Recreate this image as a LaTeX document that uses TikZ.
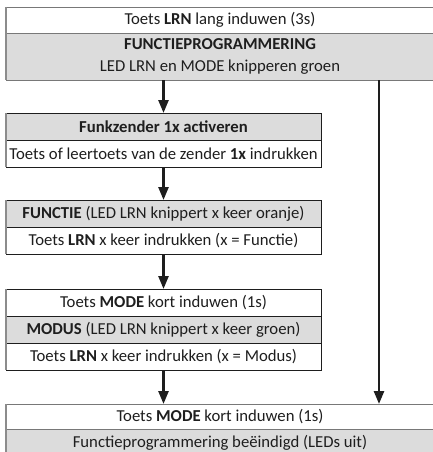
\documentclass[tikz,border=0pt]{standalone}
\usepackage{fontspec}
\setmainfont{Carlito}
\usetikzlibrary{arrows.meta}
\definecolor{boxgray}{RGB}{220,220,220}
\definecolor{edgegray}{RGB}{120,120,120}
\definecolor{leftgray}{RGB}{140,140,140}
\definecolor{inkdark}{RGB}{30,30,30}
\tikzset{
  row/.style={anchor=north west, inner sep=0pt, outer sep=0pt, align=center,
    font=\fontsize{16.7}{22.5}\selectfont, text=inkdark},
  wide/.style={row, minimum width=428pt},
  narrow/.style={row, minimum width=315pt},
  grayrow/.style={fill=boxgray},
  whiterow/.style={fill=white},
  outerframe/.style={draw=edgegray, line width=0.9pt},
  innerframe/.style={draw=inkdark, line width=0.9pt},
  leftedge/.style={draw=leftgray, line width=1.9pt},
  flowarrow/.style={draw=inkdark, line width=2.6pt, -{Triangle[length=13pt,width=10pt]}},
}
\begin{document}
\begin{tikzpicture}[x=1pt,y=-1pt]
\useasboundingbox (0,0) rectangle (433,452);
% top box
\node[wide, whiterow, minimum height=26pt] (t1) at (6,7) {Toets \textbf{LRN} lang induwen (3s)};
\node[wide, grayrow, minimum height=47pt] (t2) at (6,33) {\textbf{FUNCTIEPROGRAMMERING}\\LED LRN en MODE knipperen groen};
\draw[outerframe] (t1.north west) rectangle (t2.south east);
\draw[outerframe] (t1.south west) -- (t1.south east);
\draw[leftedge] (t1.north west) -- (t2.south west);
% box 2
\node[narrow, grayrow, minimum height=27pt] (a1) at (6,113) {\textbf{Funkzender 1x activeren}};
\node[narrow, whiterow, minimum height=27pt] (a2) at (6,140) {Toets of leertoets van de zender \textbf{1x} indrukken};
\draw[innerframe] (a1.north west) rectangle (a2.south east);
\draw[innerframe] (a1.south west) -- (a1.south east);
\draw[leftedge] (a1.north west) -- (a2.south west);
% box 3
\node[narrow, grayrow, minimum height=27pt] (f1) at (6,200) {\textbf{FUNCTIE} (LED LRN knippert x keer oranje)};
\node[narrow, whiterow, minimum height=27pt] (f2) at (6,227) {Toets \textbf{LRN} x keer indrukken (x = Functie)};
\draw[innerframe] (f1.north west) rectangle (f2.south east);
\draw[innerframe] (f1.south west) -- (f1.south east);
\draw[leftedge] (f1.north west) -- (f2.south west);
% box 4
\node[narrow, whiterow, minimum height=27pt] (m1) at (6,289) {Toets \textbf{MODE} kort induwen (1s)};
\node[narrow, grayrow, minimum height=27pt] (m2) at (6,316) {\textbf{MODUS} (LED LRN knippert x keer groen)};
\node[narrow, whiterow, minimum height=27pt] (m3) at (6,343) {Toets \textbf{LRN} x keer indrukken (x = Modus)};
\draw[innerframe] (m1.north west) rectangle (m3.south east);
\draw[innerframe] (m1.south west) -- (m1.south east);
\draw[innerframe] (m2.south west) -- (m2.south east);
\draw[leftedge] (m1.north west) -- (m3.south west);
% bottom box
\node[wide, whiterow, minimum height=25pt] (e1) at (6,404) {Toets \textbf{MODE} kort induwen (1s)};
\node[wide, grayrow, minimum height=27pt] (e2) at (6,429) {Functieprogrammering beëindigd (LEDs uit)};
\draw[outerframe] (e1.north west) rectangle (e2.south east);
\draw[outerframe] (e1.south west) -- (e1.south east);
\draw[leftedge] (e1.north west) -- (e2.south west);
% arrows
\coordinate (rx) at (379,0);
\draw[flowarrow] (a1.north |- t2.south) -- (a1.north);
\draw[flowarrow] (a2.south) -- (f1.north);
\draw[flowarrow] (f2.south) -- (m1.north);
\draw[flowarrow] (m3.south) -- (m3.south |- e1.north);
\draw[flowarrow] (t2.south -| rx) -- (e1.north -| rx);
\end{tikzpicture}
\end{document}
